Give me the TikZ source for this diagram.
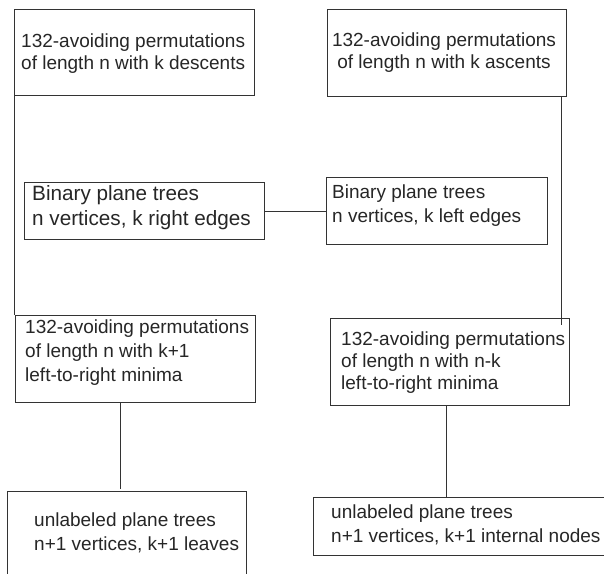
\documentclass[tikz,border=0pt]{standalone}
\usepackage{fontspec}
\setmainfont{Liberation Sans}
\usetikzlibrary{calc}
\begin{document}
\begin{tikzpicture}[x=1pt,y=1pt,
  box/.style={draw=black!80, line width=0.8pt, inner sep=0pt, anchor=north west},
  txt/.style={inner sep=0pt, text=black!85, align=left, anchor=west},
  link/.style={draw=black!80, line width=0.8pt},
  fs/.style={font=\fontsize{19}{#1}\selectfont}]
\useasboundingbox (0,0) rectangle (604,-573);
\clip (0,0) rectangle (604,-573);
% boxes
\node[box, minimum width=240, minimum height=86] (A) at (14,-9) {};
\node[box, minimum width=239, minimum height=87] (A2) at (327,-9) {};
\node[box, minimum width=240, minimum height=57] (B) at (24,-182) {};
\node[box, minimum width=221, minimum height=67] (B2) at (326,-177) {};
\node[box, minimum width=240, minimum height=87] (C) at (15,-315) {};
\node[box, minimum width=239, minimum height=87] (C2) at (330,-318) {};
\node[box, minimum width=239, minimum height=99] (D) at (7,-491) {};
\node[box, minimum width=307, minimum height=58] (D2) at (313,-497) {};
% texts
\node[txt, fs=22] (At) at (21,-54) {132-avoiding permutations\\of length n with k descents};
\node[txt, fs=22, align=center, anchor=center] (A2t) at (444,-53) {132-avoiding permutations\\of length n with k ascents};
\node[txt, font=\fontsize{20.7}{25}\selectfont] (Bt) at (32,-207.5) {Binary plane trees\\n vertices, k right edges};
\node[txt, fs=24] (B2t) at (332,-206) {Binary plane trees\\n vertices, k left edges};
\node[txt, fs=24] (Ct) at (25,-353) {132-avoiding permutations\\of length n with k+1\\left-to-right minima};
\node[txt, fs=22] (C2t) at (341,-363) {132-avoiding permutations\\of length n with n-k\\left-to-right minima};
\node[txt, fs=24] (Dt) at (34,-533) {unlabeled plane trees\\n+1 vertices, k+1 leaves};
\node[txt, fs=24] (D2t) at (331,-525) {unlabeled plane trees\\n+1 vertices, k+1 internal nodes};
% connectors
\draw[link] (A.south west) -- (A.south west |- C.north);
\coordinate (rtop) at ($(A2.south east)+(-5,0)$);
\coordinate (rend) at ($(rtop |- C2.north)+(0,-7)$);
\draw[link] (rtop) -- (rend);
\draw[link] (B.east) -- (B.east -| B2.west);
\coordinate (ltop) at ($(C.south)+(-15,0)$);
\coordinate (lend) at ($(C.south)+(-15,-86)$);
\draw[link] (ltop) -- (lend);
\coordinate (mtop) at ($(C2.south)+(-3.5,0)$);
\draw[link] (mtop) -- (mtop |- D2.north);
\end{tikzpicture}
\end{document}
